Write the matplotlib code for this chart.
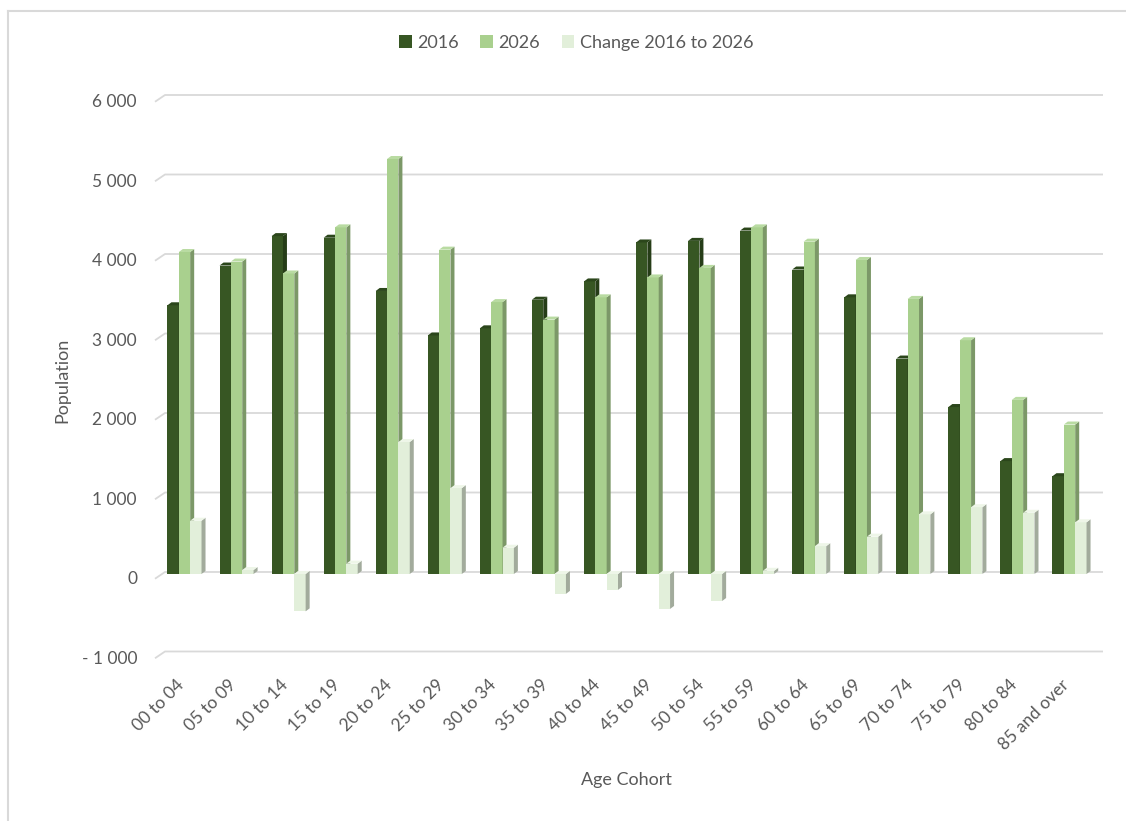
import numpy as np
import matplotlib.pyplot as plt
from matplotlib.patches import Polygon, Patch
from matplotlib.lines import Line2D

plt.rcParams['font.family'] = ['Lato', 'DejaVu Sans']

cohorts = ['00 to 04', '05 to 09', '10 to 14', '15 to 19', '20 to 24', '25 to 29',
           '30 to 34', '35 to 39', '40 to 44', '45 to 49', '50 to 54', '55 to 59',
           '60 to 64', '65 to 69', '70 to 74', '75 to 79', '80 to 84', '85 and over']
pop_2016 = [3380, 3880, 4250, 4230, 3560, 3000, 3090, 3450, 3680, 4170, 4190, 4320,
            3830, 3480, 2710, 2100, 1420, 1230]
pop_2026 = [4050, 3930, 3780, 4360, 5220, 4080, 3420, 3200, 3480, 3730, 3850, 4360,
            4180, 3950, 3460, 2940, 2190, 1880]
change = [670, 50, -470, 130, 1660, 1080, 330, -250, -200, -440, -340, 40,
          350, 470, 750, 840, 770, 650]
series_names = ['2016', '2026', 'Change 2016 to 2026']
yticks = [-1000, 0, 1000, 2000, 3000, 4000, 5000, 6000]

# front / side / top face colours per series
front = ['#375623', '#a9d08e', '#e2efda']
side = ['#263d18', '#7c9868', '#a2ab9c']
top = ['#2b461b', '#b9dba2', '#eef6e8']
grey = '#595959'
grid = '#d9d9d9'

W, H = 1126, 821
fig = plt.figure(figsize=(W / 100, H / 100), dpi=100)
ax = fig.add_axes([150 / W, 1 - 665 / H, 960 / W, 575 / H])

pitch = 52.06                # pixels per category
x0px = 184.5                 # pixel centre of the first category
ppu = 575 / (6088 + 1145)    # pixels per population unit
ax.set_xlim((150 - x0px) / pitch, (1110 - x0px) / pitch)
ax.set_ylim(-1145, 6088)
ax.axis('off')

def px(p):
    return (p - x0px) / pitch

# back-wall gridlines with the little perspective kink on the left
for v in yticks:
    ax.plot([px(155), px(165), px(1103)], [v - 60, v + 25, v + 25],
            color=grid, lw=1.3, zorder=1, solid_capstyle='butt')
    lab = f"{abs(v):,}".replace(',', ' ')
    if v < 0:
        lab = '- ' + lab
    ax.text(px(137), v - 68, lab, ha='right', va='center', fontsize=12.5, color=grey)

x = np.arange(len(cohorts))
w = 0.218
dx = 4 / pitch
dy = 3 / ppu
for k, vals in enumerate([pop_2016, pop_2026, change]):
    xs = x + (k - 1) * w
    ax.bar(xs, vals, width=w, color=front[k], zorder=3 + k, linewidth=0)
    for xc, v in zip(xs, vals):
        xl, xr = xc - w / 2, xc + w / 2
        lo, hi = min(0, v), max(0, v)
        ax.add_patch(Polygon([(xr, lo), (xr + dx, lo + dy), (xr + dx, hi + dy), (xr, hi)],
                             closed=True, facecolor=side[k], edgecolor='none', zorder=3 + k))
        ax.add_patch(Polygon([(xl, hi), (xl + dx, hi + dy), (xr + dx, hi + dy), (xr, hi)],
                             closed=True, facecolor=top[k], edgecolor='none', zorder=3 + k))

for xc, lab in zip(x, cohorts):
    ax.text(xc + 0.05, -1290, lab, rotation=45, ha='right', va='top',
            fontsize=12.5, color=grey, clip_on=False)

fig.text(62 / W, 1 - 380 / H, 'Population', rotation=90, ha='center', va='center',
         fontsize=13, color=grey)
fig.text(626 / W, 1 - 780 / H, 'Age Cohort', ha='center', va='center',
         fontsize=13, color=grey)

handles = [Patch(facecolor=c, edgecolor='none') for c in front]
fig.legend(handles, series_names, loc='center', bbox_to_anchor=(576 / W, 1 - 43 / H),
           ncol=3, frameon=False, fontsize=13, labelcolor=grey,
           handlelength=0.7, handleheight=0.7, handletextpad=0.3, columnspacing=1.2)

# chart area frame
fig.add_artist(Line2D([8 / W, 8 / W], [0, 1 - 11 / H], color=grid, lw=1.5))
fig.add_artist(Line2D([8 / W, 1], [1 - 11 / H, 1 - 11 / H], color=grid, lw=1.5))

fig.savefig('out.png', dpi=100)
